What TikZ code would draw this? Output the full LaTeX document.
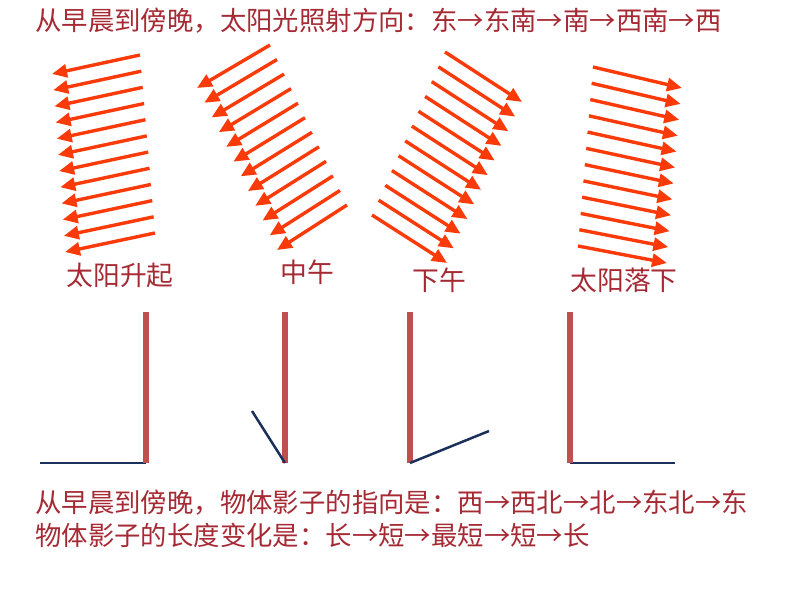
\documentclass[tikz,border=0pt]{standalone}
\usepackage{fontspec}
\setmainfont{Noto Sans CJK SC}
\usetikzlibrary{arrows.meta}
\definecolor{txtred}{RGB}{165,42,52}
\definecolor{sunray}{RGB}{250,58,8}
\definecolor{pole}{RGB}{192,80,77}
\definecolor{shadow}{RGB}{28,48,92}
\tikzset{
  ray/.style={draw=sunray, line width=3.4pt, -{Triangle[length=15pt,width=13pt]}},
  polebar/.style={draw=pole, line width=6pt},
  shadowline/.style={draw=shadow, line width=2.5pt},
  txt/.style={text=txtred, font=\fontsize{26.4}{30}\selectfont, inner sep=0pt, anchor=west},
  lbl/.style={text=txtred, font=\fontsize{26.8}{30}\selectfont, inner sep=0pt}
}
\begin{document}
\begin{tikzpicture}[x=1pt,y=-1pt]
\useasboundingbox (0,0) rectangle (794,596);
\node[txt] (title) at (35,21) {从早晨到傍晚，太阳光照射方向：东→东南→南→西南→西};

% group 1: sunrise
\foreach \i in {0,...,11}{
  \pgfmathsetmacro{\t}{\i/11}
  \coordinate (at\i) at ({140+15*\t},{55+178*\t});
  \coordinate (ah\i) at ({52+13*\t},{74+178*\t});
  \draw[ray] (at\i) -- (ah\i);
}
% group 2: noon
\foreach \i in {0,...,11}{
  \pgfmathsetmacro{\t}{\i/11}
  \coordinate (bt\i) at ({270+77*\t},{45+160*\t});
  \coordinate (bh\i) at ({197+80*\t},{88+162*\t});
  \draw[ray] (bt\i) -- (bh\i);
}
% group 3: afternoon
\foreach \i in {0,...,11}{
  \pgfmathsetmacro{\t}{\i/11}
  \coordinate (ct\i) at ({445-73*\t},{52+163*\t});
  \coordinate (ch\i) at ({522-75*\t},{102+161*\t});
  \draw[ray] (ct\i) -- (ch\i);
}
% group 4: sunset
\foreach \i in {0,...,11}{
  \pgfmathsetmacro{\t}{\i/11}
  \coordinate (dt\i) at ({593-15*\t},{67+179*\t});
  \coordinate (dh\i) at ({682-15*\t},{88+175*\t});
  \draw[ray] (dt\i) -- (dh\i);
}

\node[lbl] (l1) at (120,275) {太阳升起};
\node[lbl] (l2) at (307,272) {中午};
\node[lbl] (l3) at (439,280) {下午};
\node[lbl] (l4) at (624,280) {太阳落下};

% poles and shadows
\coordinate (p1t) at (146,312); \coordinate (p1b) at (146,463);
\coordinate (s1) at (40,463);
\draw[shadowline] (s1) -- (p1b);
\draw[polebar] (p1t) -- (p1b);

\coordinate (p2t) at (285,312); \coordinate (p2b) at (285,463);
\coordinate (s2) at (252,411);
\draw[polebar] (p2t) -- (p2b);
\draw[shadowline] (s2) -- (p2b);

\coordinate (p3t) at (410,312); \coordinate (p3b) at (410,463);
\coordinate (s3) at (489,431);
\draw[polebar] (p3t) -- (p3b);
\draw[shadowline] (p3b) -- (s3);

\coordinate (p4t) at (570,312); \coordinate (p4b) at (570,463);
\coordinate (s4) at (675,463);
\draw[shadowline] (p4b) -- (s4);
\draw[polebar] (p4t) -- (p4b);

\node[txt] (line1) at (35,503) {从早晨到傍晚，物体影子的指向是：西→西北→北→东北→东};
\node[txt] (line2) at (35,535) {物体影子的长度变化是：长→短→最短→短→长};
\end{tikzpicture}
\end{document}
